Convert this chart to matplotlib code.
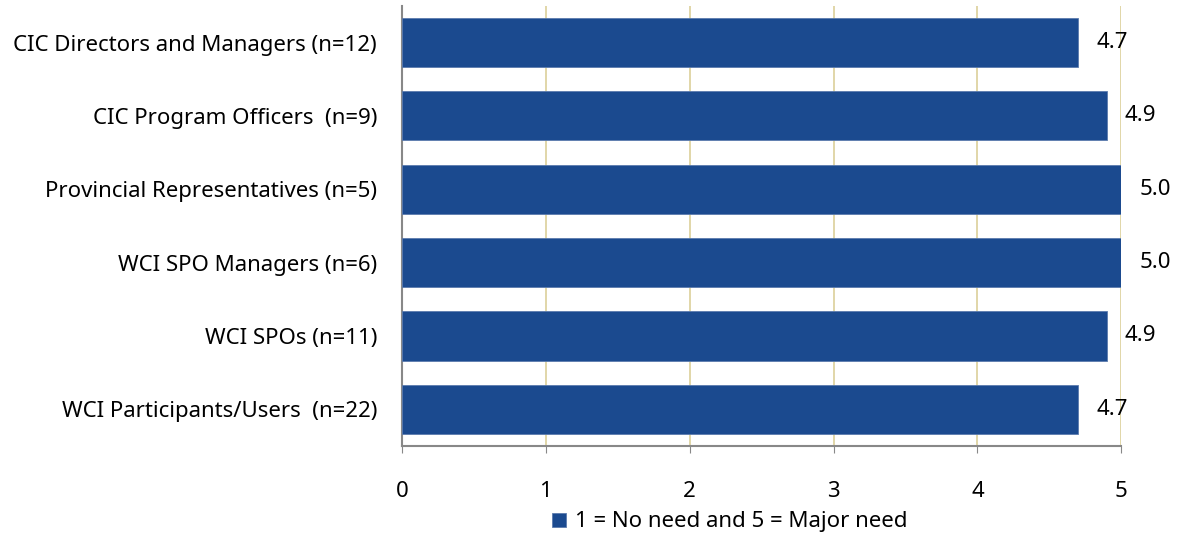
import matplotlib.pyplot as plt

categories = ['CIC Directors and Managers (n=12)', 'CIC Program Officers  (n=9)',
              'Provincial Representatives (n=5)', 'WCI SPO Managers (n=6)',
              'WCI SPOs (n=11)', 'WCI Participants/Users  (n=22)']
values = [4.7, 4.9, 5.0, 5.0, 4.9, 4.7]
legend_label = '1 = No need and 5 = Major need'

plt.rcParams['font.family'] = ['Noto Sans', 'DejaVu Sans']
fs = 16

fig = plt.figure(figsize=(11.79, 5.37), dpi=100)
ax = fig.add_axes([0.341, 0.1695, 0.61, 0.8195])

ypos = list(range(len(categories)))
bars = ax.barh(ypos, values, height=0.67, color='#1B4A8F', edgecolor='#5B7BAE',
               linewidth=0.6, label=legend_label, zorder=3)
ax.set_ylim(len(categories) - 0.5, -0.5)
ax.set_xlim(0, 5)
ax.set_xticks([0, 1, 2, 3, 4, 5])
ax.set_yticks(ypos)
ax.set_yticklabels(categories, fontsize=fs)
ax.tick_params(axis='x', labelsize=fs, length=5, color='#888888', pad=20)
ax.tick_params(axis='y', length=0, pad=18)

ax.grid(axis='x', color='#DCD09A', linewidth=1.2, zorder=0)
for s in ['top', 'right']:
    ax.spines[s].set_visible(False)
for s in ['left', 'bottom']:
    ax.spines[s].set_color('#888888')
    ax.spines[s].set_linewidth(1.5)

for b, v in zip(bars, values):
    ax.annotate(f'{v:.1f}', (b.get_width(), b.get_y() + b.get_height() / 2),
                xytext=(13, 0), textcoords='offset points', va='center',
                fontsize=fs, clip_on=False)

fig.legend(loc='center', bbox_to_anchor=(0.619, 0.028), frameon=False,
           fontsize=fs, handlelength=0.6, handleheight=0.6, handletextpad=0.4)

fig.savefig('out.png', dpi=100)
